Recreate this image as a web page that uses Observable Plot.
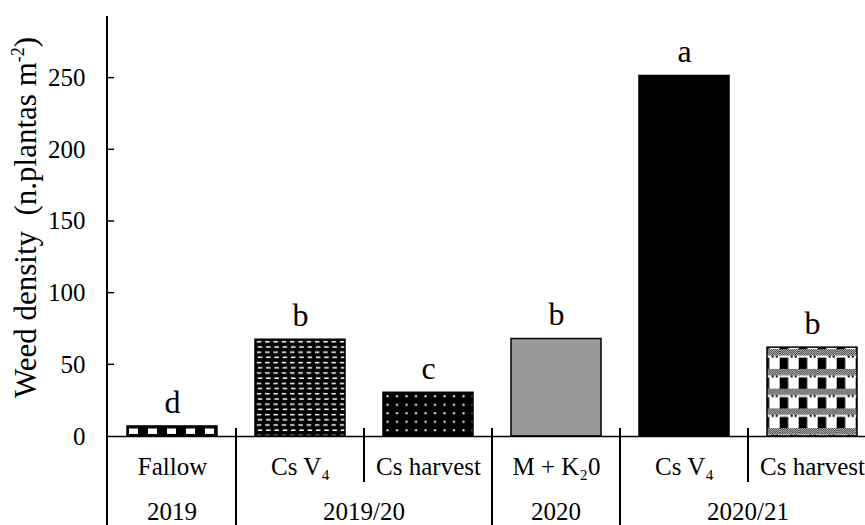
<!DOCTYPE html>
<html><head><meta charset="utf-8">
<script src="https://cdn.jsdelivr.net/npm/d3@7"></script>
<script src="https://cdn.jsdelivr.net/npm/@observablehq/plot@0.6"></script>
<style>html,body{margin:0;padding:0;background:#fff;overflow:hidden;}
svg text{font-family:"Liberation Serif","Times New Roman",serif !important;}</style>
</head><body><div id="chart"></div>
<script>
// ---- data ----
const ids = ["fallow_2019", "csv4_2019_20", "csharvest_2019_20", "mk2o_2020", "csv4_2020_21", "csharvest_2020_21"];
const labels = ["Fallow", "Cs V\u2084", "Cs harvest", "M + K\u20820", "Cs V\u2084", "Cs harvest"];
const years = ["2019", "2019/20", "2019/20", "2020", "2020/21", "2020/21"];
const density = [7, 67.5, 30.5, 68, 251.5, 62];
const letters = ["d", "b", "c", "b", "a", "b"];
const yTicks = [0, 50, 100, 150, 200, 250];
const yTitle = "Weed density  (n.plantas m-2)";

// ---- styles (kept apart from data) ----
const patternKinds = ["checkerRow", "brick", "dots", "gray", "black", "plaid"];
const FONT = "Liberation Serif, Times New Roman, serif";
const W = 865, H = 525;

const data = ids.map((id, i) => ({id, label: labels[i], year: years[i], value: density[i], letter: letters[i]}));

const plot = Plot.plot({
  width: W, height: H,
  marginLeft: 107, marginRight: 0, marginTop: 16, marginBottom: 89,
  style: {fontFamily: FONT, fontSize: "25px", color: "#000", background: "#fff"},
  x: {domain: ids, range: [107, 877], paddingInner: 0.3, paddingOuter: 0.15, label: null},
  y: {domain: [0, 293], label: null, axis: null},
  marks: [
    Plot.barY(data, {x: "id", y: "value", fill: "#000", stroke: "#000", strokeWidth: 1.5}),
    Plot.ruleY([0], {stroke: "#000", strokeWidth: 1.5}),
    // y tick labels, placed with the y scale
    Plot.text(yTicks, {y: d => d, text: d => String(d), frameAnchor: "left", textAnchor: "end",
      lineAnchor: "middle", dx: -22, fontSize: 25}),
    Plot.axisX({tickSize: 0, tickPadding: 21, fontSize: 25, label: null,
      tickFormat: id => labels[ids.indexOf(id)]}),
    Plot.text(data, {x: "id", y: "value", text: "letter", dy: -24, lineAnchor: "middle", fontSize: 32}),
    Plot.text([yTitle], {text: d => d, frameAnchor: "left", rotate: -90, dx: -81, dy: -9,
      fontSize: 31, lineAnchor: "middle", textAnchor: "middle"})
  ]
});
document.getElementById("chart").appendChild(plot);

// ---- post-processing: patterns, category table lines, year row ----
const svg = d3.select(plot);
const xs = plot.scale("x"), ys = plot.scale("y");
const defs = svg.insert("defs", ":first-child");

// fine dither used in the plaid pattern
const fine = defs.append("pattern").attr("id", "fineDither").attr("patternUnits", "userSpaceOnUse")
  .attr("width", 2).attr("height", 2);
fine.append("rect").attr("width", 2).attr("height", 2).attr("fill", "#fff");
fine.append("rect").attr("width", 1).attr("height", 1).attr("fill", "#000");
fine.append("rect").attr("x", 1).attr("y", 1).attr("width", 1).attr("height", 1).attr("fill", "#000");

function addPattern(id, kind, x, y) {
  if (kind === "gray") return "#999999";
  if (kind === "black") return "#000000";
  const p = defs.append("pattern").attr("id", id).attr("patternUnits", "userSpaceOnUse");
  if (kind === "checkerRow") {
    p.attr("x", x + 2).attr("y", y).attr("width", 19).attr("height", 19);
    p.append("rect").attr("width", 19).attr("height", 19).attr("fill", "#000");
    p.append("rect").attr("x", 0).attr("y", 2.5).attr("width", 9).attr("height", 5.5).attr("fill", "#fff");
  } else if (kind === "brick") {
    p.attr("x", x).attr("y", y).attr("width", 8.3).attr("height", 10.4);
    p.append("rect").attr("width", 8.3).attr("height", 10.4).attr("fill", "#000");
    p.append("rect").attr("x", 1.8).attr("y", 1.8).attr("width", 4.5).attr("height", 1.5).attr("fill", "#fff");
    p.append("rect").attr("x", 2.8).attr("y", 7).attr("width", 4.5).attr("height", 1.5).attr("fill", "#fff");
  } else if (kind === "dots") {
    p.attr("x", x).attr("y", y).attr("width", 9.5).attr("height", 8.5);
    p.append("rect").attr("width", 9.5).attr("height", 8.5).attr("fill", "#000");
    p.append("rect").attr("x", 3.5).attr("y", 3).attr("width", 2).attr("height", 2).attr("fill", "#fff");
  } else if (kind === "plaid") {
    p.attr("x", x + 12.7).attr("y", y + 2).attr("width", 19).attr("height", 19.75);
    p.append("rect").attr("width", 19).attr("height", 19.75).attr("fill", "#fff");
    p.append("rect").attr("width", 19).attr("height", 6.5).attr("fill", "url(#fineDither)");
    p.append("rect").attr("x", 0).attr("y", 8.5).attr("width", 8.5).attr("height", 11.25).attr("fill", "#000");
    p.append("rect").attr("x", 11).attr("y", 6.5).attr("width", 2).attr("height", 2).attr("fill", "#000");
    p.append("rect").attr("x", 15).attr("y", 6.5).attr("width", 2).attr("height", 2).attr("fill", "#000");
  }
  return `url(#${id})`;
}

const rects = svg.selectAll('g[aria-label="bar"] rect').nodes();
rects.forEach((r, i) => {
  const x = +r.getAttribute("x"), y = +r.getAttribute("y");
  r.setAttribute("fill", addPattern("pat" + i, patternKinds[i], x, y));
});

const bw = rects.length ? +rects[0].getAttribute("width") : 0;
const step = xs.apply(ids[1]) - xs.apply(ids[0]);
const gap = step - bw;
const y0 = ys.apply(0);
const x0 = xs.range[0];
const g = svg.append("g").attr("stroke", "#000").attr("stroke-width", 2);

// y axis line running down through the category table
g.append("line").attr("x1", x0).attr("x2", x0).attr("y1", ys.apply(ys.domain[1])).attr("y2", H);
// inward ticks
yTicks.filter(v => v !== 0).forEach(v => {
  g.append("line").attr("x1", x0).attr("x2", x0 + 7).attr("y1", ys.apply(v)).attr("y2", ys.apply(v))
    .attr("stroke-width", 1.5);
});
// separators between categories
for (let i = 0; i < ids.length - 1; i++) {
  const bx = xs.apply(ids[i + 1]) - gap / 2;
  const long = years[i] !== years[i + 1];
  g.append("line").attr("x1", bx).attr("x2", bx).attr("y1", y0 - 8).attr("y2", long ? H : y0 + 46);
}
// year row
const groups = d3.groups(data, d => d.year);
const yearG = svg.append("g").attr("font-size", 25).attr("text-anchor", "middle").attr("fill", "#000");
groups.forEach(([year, items]) => {
  const cx = d3.mean(items, d => xs.apply(d.id) + bw / 2);
  yearG.append("text").attr("x", cx).attr("y", y0 + 84).text(year);
});

// superscript in the y title
svg.selectAll("text").each(function() {
  if (this.textContent === yTitle) {
    const t = d3.select(this);
    t.text("Weed density  (n.plantas m");
    t.append("tspan").attr("font-size", 18).attr("dy", -12).text("-2");
    t.append("tspan").attr("dy", 12).text(")");
  }
});
svg.selectAll("text").attr("font-family", FONT);
</script>
</body></html>
